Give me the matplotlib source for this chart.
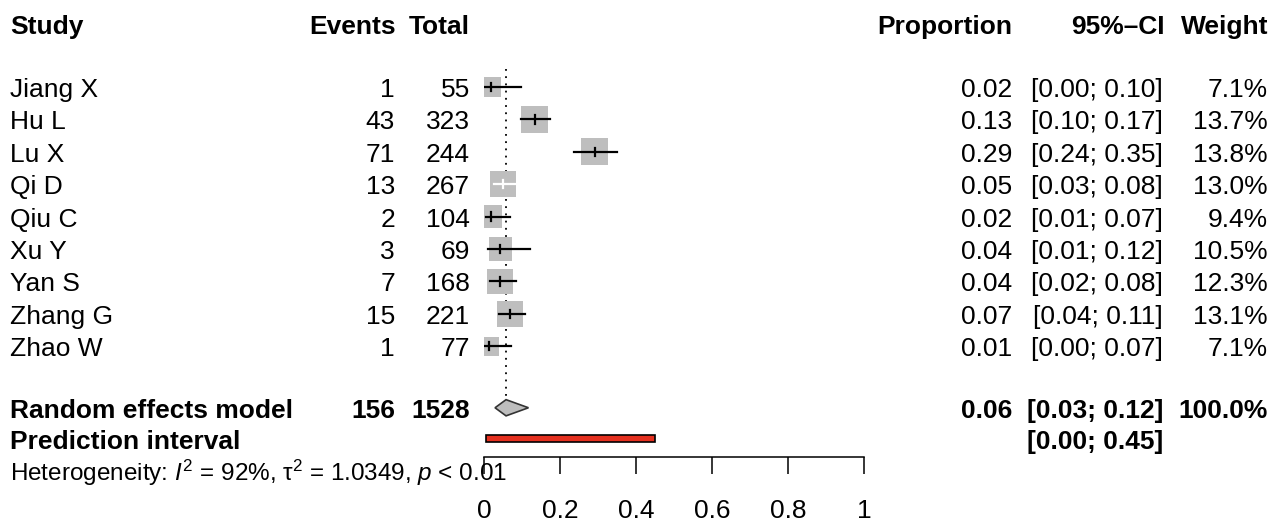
import numpy as np
import matplotlib
matplotlib.use("Agg")
import matplotlib.pyplot as plt
from matplotlib.patches import Rectangle, Polygon
from matplotlib.transforms import blended_transform_factory

plt.rcParams['font.family'] = ['Liberation Sans', 'DejaVu Sans']
plt.rcParams['mathtext.fontset'] = 'custom'
plt.rcParams['mathtext.rm'] = 'Liberation Sans'
plt.rcParams['mathtext.it'] = 'Liberation Sans:italic'
plt.rcParams['mathtext.bf'] = 'Liberation Sans:bold'

# study level data (metaprop output)
studies = ["Jiang X", "Hu L", "Lu X", "Qi D", "Qiu C", "Xu Y", "Yan S", "Zhang G", "Zhao W"]
events = [1, 43, 71, 13, 2, 3, 7, 15, 1]
totals = [55, 323, 244, 267, 104, 69, 168, 221, 77]
prop = [0.018, 0.133, 0.291, 0.049, 0.019, 0.043, 0.042, 0.068, 0.013]
ci_lo = [0.000, 0.098, 0.236, 0.026, 0.006, 0.011, 0.017, 0.039, 0.000]
ci_hi = [0.097, 0.174, 0.351, 0.082, 0.068, 0.122, 0.084, 0.109, 0.070]
weights = [7.1, 13.7, 13.8, 13.0, 9.4, 10.5, 12.3, 13.1, 7.1]

# pooled estimate and prediction interval
re_est, re_lo, re_hi = 0.058, 0.029, 0.117
pi_lo, pi_hi = 0.004, 0.450
het_i2, het_tau2 = 92, 1.0349
xticks = [0, 0.2, 0.4, 0.6, 0.8, 1]

W, H = 1284, 525
FS = 19
PX_ROW = 32.4          # pixels per row
BL = 10 / PX_ROW       # baseline offset below row centre

fig = plt.figure(figsize=(W / 100, H / 100), dpi=100)

# forest panel: x = proportion, y = row index (top to bottom)
ax = fig.add_axes([484 / W, (H - 457) / H, 380 / W, 457 / H])
ax.set_xlim(0, 1)
ax.set_ylim((457 - 87) / PX_ROW + 2, (0 - 87) / PX_ROW + 2)
ax.patch.set_alpha(0)
for s in ["top", "left", "right"]:
    ax.spines[s].set_visible(False)
ax.spines["bottom"].set_linewidth(1.1)
ax.set_yticks([])
ax.set_xticks(xticks)
ax.set_xticklabels([f"{t:g}" for t in xticks])
ax.tick_params(axis="x", direction="out", length=12, width=1.1, pad=18, labelsize=FS)

rows = np.arange(2, 2 + len(studies))
row_head = 0.05
row_re = 11.9
row_pi = 12.86
row_het = 13.85

# reference line at the pooled estimate
ax.plot([re_est, re_est], [1.45, 11.55], color="black", lw=1.3, ls=(0, (1, 3)))

for r, p, lo, hi, w in zip(rows, prop, ci_lo, ci_hi, weights):
    side = 27 * np.sqrt(w / 13.8)
    wd, ht = side / 380, side / PX_ROW
    ax.add_patch(Rectangle((p - wd / 2, r - ht / 2), wd, ht, fc="#bebebe", ec="none", zorder=2))
    col = "white" if (lo >= p - wd / 2 and hi <= p + wd / 2) else "black"
    ax.plot([lo, hi], [r, r], color=col, lw=1.6, zorder=3)
    ax.plot([p, p], [r - 0.13, r + 0.13], color=col, lw=1.6, zorder=3)

ax.add_patch(Polygon([(re_lo, row_re), (re_est, row_re - 0.25), (re_hi, row_re),
                      (re_est, row_re + 0.25)], closed=True, fc="#bebebe", ec="#333333", lw=1.2))
ax.add_patch(Rectangle((pi_lo, row_pi - 0.11), pi_hi - pi_lo, 0.22, fc="#e5301f", ec="black", lw=1.2))

# text columns
tr = blended_transform_factory(fig.transFigure, ax.transData)


def put(px, r, s, ha="left", bold=False, size=FS):
    fig.text(px / W, r + BL, s, ha=ha, va="baseline", fontsize=size,
             fontweight="bold" if bold else "normal", transform=tr)


put(10, row_head, "Study", bold=True)
put(396, row_head, "Events", ha="right", bold=True)
put(470, row_head, "Total", ha="right", bold=True)
put(1012, row_head, "Proportion", ha="right", bold=True)
put(1165, row_head, "95%\u2013CI", ha="right", bold=True)
put(1268, row_head, "Weight", ha="right", bold=True)

for r, name, e, n, p, lo, hi, w in zip(rows, studies, events, totals, prop, ci_lo, ci_hi, weights):
    put(10, r, name)
    put(395, r, str(e), ha="right")
    put(470, r, str(n), ha="right")
    put(1012, r, f"{p:.2f}", ha="right")
    put(1163, r, f"[{lo:.2f}; {hi:.2f}]", ha="right")
    put(1268, r, f"{w:.1f}%", ha="right")

put(10, row_re, "Random effects model", bold=True)
put(395, row_re, str(sum(events)), ha="right", bold=True)
put(470, row_re, str(sum(totals)), ha="right", bold=True)
put(1012, row_re, f"{re_est:.2f}", ha="right", bold=True)
put(1163, row_re, f"[{re_lo:.2f}; {re_hi:.2f}]", ha="right", bold=True)
put(1268, row_re, f"{sum(weights):.1f}%", ha="right", bold=True)

put(10, row_pi, "Prediction interval", bold=True)
put(1163, row_pi, f"[{pi_lo:.2f}; {pi_hi:.2f}]", ha="right", bold=True)

put(10, row_het, rf"Heterogeneity: $I^2$ = {het_i2}%, $\mathrm{{\tau}}^2$ = {het_tau2}, $p$ < 0.01",
    size=17.5)

fig.savefig("out.png", dpi=100)
